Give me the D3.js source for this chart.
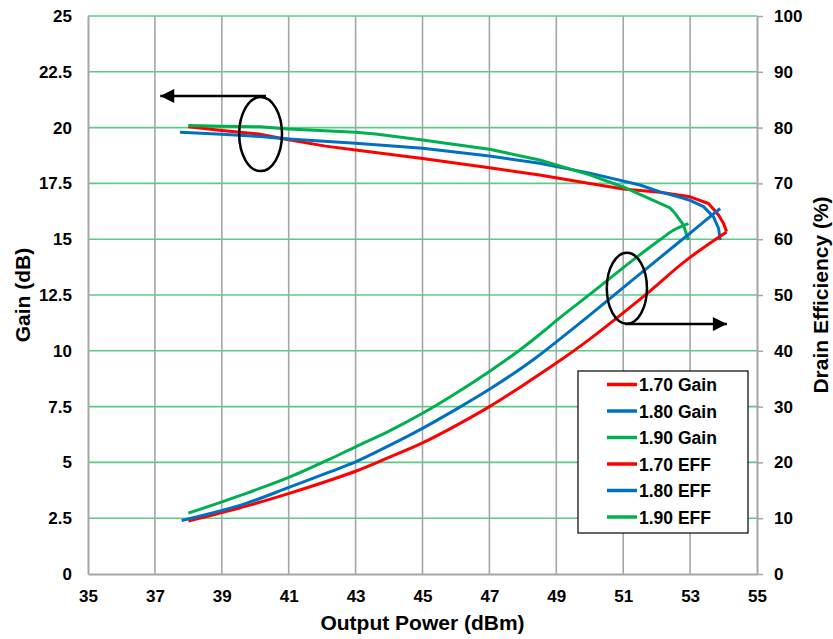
<!DOCTYPE html>
<html>
<head>
<meta charset="utf-8">
<script src="https://cdn.jsdelivr.net/npm/d3@7"></script>
<style>
    body { margin: 0; background: #fff; }
    text { font-family: "Liberation Sans", Arial, sans-serif; font-weight: bold; fill: #000; }
</style>
</head>
<body>
<svg id="chart" width="833" height="639"></svg>
<script>
// x ticks / y ticks
var xTicks = [35, 37, 39, 41, 43, 45, 47, 49, 51, 53, 55];
var gainTicks = [0, 2.5, 5, 7.5, 10, 12.5, 15, 17.5, 20, 22.5, 25];
var effTicks = [0, 10, 20, 30, 40, 50, 60, 70, 80, 90, 100];

// 1.70 GHz
var pout170Gain = [38, 39, 40.1, 41, 42.1, 43, 45, 47, 48.5, 50, 51, 52.1, 53, 53.55, 53.85, 54.0, 54.09];
var gain170 = [20.04, 19.87, 19.71, 19.46, 19.17, 19.0, 18.62, 18.2, 17.88, 17.5, 17.25, 17.1, 16.9, 16.6, 16.08, 15.7, 15.34];
var pout170Eff = [38, 39.75, 41.04, 42.23, 43.04, 44, 45, 46, 47, 48, 49, 50, 51, 51.7, 52.9, 53.6, 54.09];
var eff170 = [9.5, 12.2, 14.5, 16.8, 18.5, 20.9, 23.5, 26.6, 30.0, 33.8, 37.8, 42.1, 46.8, 50.2, 56.3, 59.3, 61.3];

// 1.80 GHz
var pout180Gain = [37.75, 39, 40.14, 41, 43, 45, 47, 48.5, 50, 51.5, 52.1, 52.7, 53.0, 53.4, 53.7, 53.85, 53.9];
var gain180 = [19.79, 19.7, 19.6, 19.49, 19.3, 19.07, 18.73, 18.4, 17.96, 17.43, 17.12, 16.88, 16.74, 16.46, 16.0, 15.49, 14.96];
var pout180Eff = [37.8, 39.75, 41.04, 42.23, 43, 44, 45, 46, 47, 48.42, 49, 50, 51.3, 52.1, 53.0, 53.9];
var eff180 = [9.6, 12.7, 15.6, 18.3, 20.1, 23.0, 26.1, 29.5, 33.1, 38.9, 41.6, 46.4, 52.8, 56.7, 61.1, 65.5];

// 1.90 GHz
var pout190Gain = [38, 39, 40.14, 41, 43, 43.6, 45, 47, 48.5, 50, 51, 52.1, 52.4, 52.55, 52.8, 52.95];
var gain190 = [20.09, 20.06, 20.04, 19.94, 19.79, 19.71, 19.44, 19.03, 18.55, 17.88, 17.34, 16.6, 16.4, 16.16, 15.64, 14.96];
var pout190Eff = [38, 39.75, 41.04, 42.23, 43, 44, 45, 46, 47, 47.9, 48.62, 49, 50, 51.3, 52.1, 52.5, 52.95];
var eff190 = [10.9, 14.5, 17.4, 20.6, 22.8, 25.6, 28.8, 32.4, 36.3, 40.1, 43.5, 45.4, 50.1, 56.3, 59.9, 61.6, 62.8];

var seriesNames = ["1.70 Gain", "1.80 Gain", "1.90 Gain", "1.70 EFF", "1.80 EFF", "1.90 EFF"];
var colors = ["#ff0000", "#0070c0", "#00b050", "#ff0000", "#0070c0", "#00b050"];

var svg = d3.select('#chart');
var plotLeft = 88, plotRight = 757, plotTop = 16, plotBottom = 574;

var x = d3.scaleLinear().domain([35, 55]).range([plotLeft, plotRight]);
var yGain = d3.scaleLinear().domain([0, 25]).range([plotBottom, plotTop]);
var yEff = d3.scaleLinear().domain([0, 100]).range([plotBottom, plotTop]);

// horizontal grid (green)
svg.append('g').selectAll('line').data(gainTicks.slice(1)).enter().append('line')
    .attr('x1', plotLeft).attr('x2', plotRight)
    .attr('y1', function(d) { return yGain(d); })
    .attr('y2', function(d) { return yGain(d); })
    .attr('stroke', '#5ccb86').attr('stroke-width', 1.6);

// vertical grid (gray)
svg.append('g').selectAll('line').data(xTicks.slice(1, -1)).enter().append('line')
    .attr('x1', function(d) { return x(d); })
    .attr('x2', function(d) { return x(d); })
    .attr('y1', plotTop).attr('y2', plotBottom)
    .attr('stroke', '#a6a6a6').attr('stroke-width', 1.6);

// axes
var xAxis = svg.append('g').attr('transform', 'translate(0,' + plotBottom + ')')
    .call(d3.axisBottom(x).tickValues(xTicks).tickSize(0).tickPadding(16));
xAxis.select('.domain').attr('stroke', '#a6a6a6').attr('stroke-width', 2);

var yAxisL = svg.append('g').attr('transform', 'translate(' + plotLeft + ',0)')
    .call(d3.axisLeft(yGain).tickValues(gainTicks).tickFormat(String).tickSize(0).tickPadding(16));
yAxisL.select('.domain').attr('stroke', '#a6a6a6').attr('stroke-width', 2);

var yAxisR = svg.append('g').attr('transform', 'translate(' + plotRight + ',0)')
    .call(d3.axisRight(yEff).tickValues(effTicks).tickSize(6).tickSizeOuter(0).tickPadding(11));
yAxisR.select('.domain').attr('stroke', '#a6a6a6').attr('stroke-width', 2);
yAxisR.selectAll('.tick line').attr('stroke', '#a6a6a6').attr('stroke-width', 1.5);

svg.selectAll('.tick text')
    .style('font-family', '"Liberation Sans", Arial, sans-serif')
    .style('font-weight', 'bold')
    .style('font-size', '17px')
    .attr('fill', '#000');

// axis titles
svg.append('text').attr('x', (plotLeft + plotRight) / 2).attr('y', 630)
    .attr('text-anchor', 'middle').style('font-size', '21px')
    .text('Output Power (dBm)');
svg.append('text')
    .attr('transform', 'translate(30,' + ((plotTop + plotBottom) / 2) + ') rotate(-90)')
    .attr('text-anchor', 'middle').style('font-size', '21px')
    .text('Gain (dB)');
svg.append('text')
    .attr('transform', 'translate(828,' + ((plotTop + plotBottom) / 2) + ') rotate(-90)')
    .attr('text-anchor', 'middle').style('font-size', '21px')
    .text('Drain Efficiency (%)');

// curves
var series = [
    { px: pout170Gain, py: gain170, y: yGain },
    { px: pout180Gain, py: gain180, y: yGain },
    { px: pout190Gain, py: gain190, y: yGain },
    { px: pout170Eff, py: eff170, y: yEff },
    { px: pout180Eff, py: eff180, y: yEff },
    { px: pout190Eff, py: eff190, y: yEff }
];

series.forEach(function(s, i) {
    var pts = s.px.map(function(v, j) { return [v, s.py[j]]; });
    var line = d3.line()
        .x(function(d) { return x(d[0]); })
        .y(function(d) { return s.y(d[1]); })
        .curve(d3.curveMonotoneX);
    // gain curves bend back, so plain linear is safer for them
    if (i < 3) line.curve(d3.curveLinear);
    svg.append('path').datum(pts)
        .attr('d', line)
        .attr('fill', 'none')
        .attr('stroke', colors[i])
        .attr('stroke-width', 3)
        .attr('stroke-linejoin', 'round')
        .attr('stroke-linecap', 'butt');
});

// annotation: ellipse + arrow towards gain axis
svg.append('defs').append('marker')
    .attr('id', 'arrow').attr('viewBox', '0 0 10 10')
    .attr('refX', 10).attr('refY', 5)
    .attr('markerWidth', 7).attr('markerHeight', 5.6)
    .attr('markerUnits', 'strokeWidth')
    .attr('orient', 'auto')
    .append('path').attr('d', 'M0,0 L10,5 L0,10 z').attr('fill', '#000');

svg.append('ellipse')
    .attr('cx', x(40.16)).attr('cy', yGain(19.71))
    .attr('rx', x(40.8) - x(40.16)).attr('ry', yGain(18.05) - yGain(19.71))
    .attr('fill', 'none').attr('stroke', '#000').attr('stroke-width', 2.5);
svg.append('line')
    .attr('x1', x(40.32)).attr('x2', x(37.16))
    .attr('y1', yGain(21.42)).attr('y2', yGain(21.42))
    .attr('stroke', '#000').attr('stroke-width', 2.5)
    .attr('marker-end', 'url(#arrow)');

svg.append('ellipse')
    .attr('cx', x(51.11)).attr('cy', yEff(51.2))
    .attr('rx', x(51.71) - x(51.11)).attr('ry', yEff(44.84) - yEff(51.2))
    .attr('fill', 'none').attr('stroke', '#000').attr('stroke-width', 2.5);
svg.append('line')
    .attr('x1', x(51.05)).attr('x2', x(54.1))
    .attr('y1', yEff(44.8)).attr('y2', yEff(44.8))
    .attr('stroke', '#000').attr('stroke-width', 2.5)
    .attr('marker-end', 'url(#arrow)');

// legend
var legend = svg.append('g').attr('transform', 'translate(578,371)');
legend.append('rect').attr('width', 170).attr('height', 162)
    .attr('fill', '#fff').attr('stroke', '#000').attr('stroke-width', 1.2);
var rows = legend.selectAll('g.row').data(seriesNames).enter().append('g')
    .attr('class', 'row')
    .attr('transform', function(d, i) { return 'translate(0,' + (13.5 + i * 26.5) + ')'; });
rows.append('line').attr('x1', 29).attr('x2', 59)
    .attr('stroke', function(d, i) { return colors[i]; })
    .attr('stroke-width', 3.5);
rows.append('text').attr('x', 61).attr('y', 6.5)
    .style('font-size', '17.5px')
    .text(function(d) { return d; });
</script>
</body>
</html>
